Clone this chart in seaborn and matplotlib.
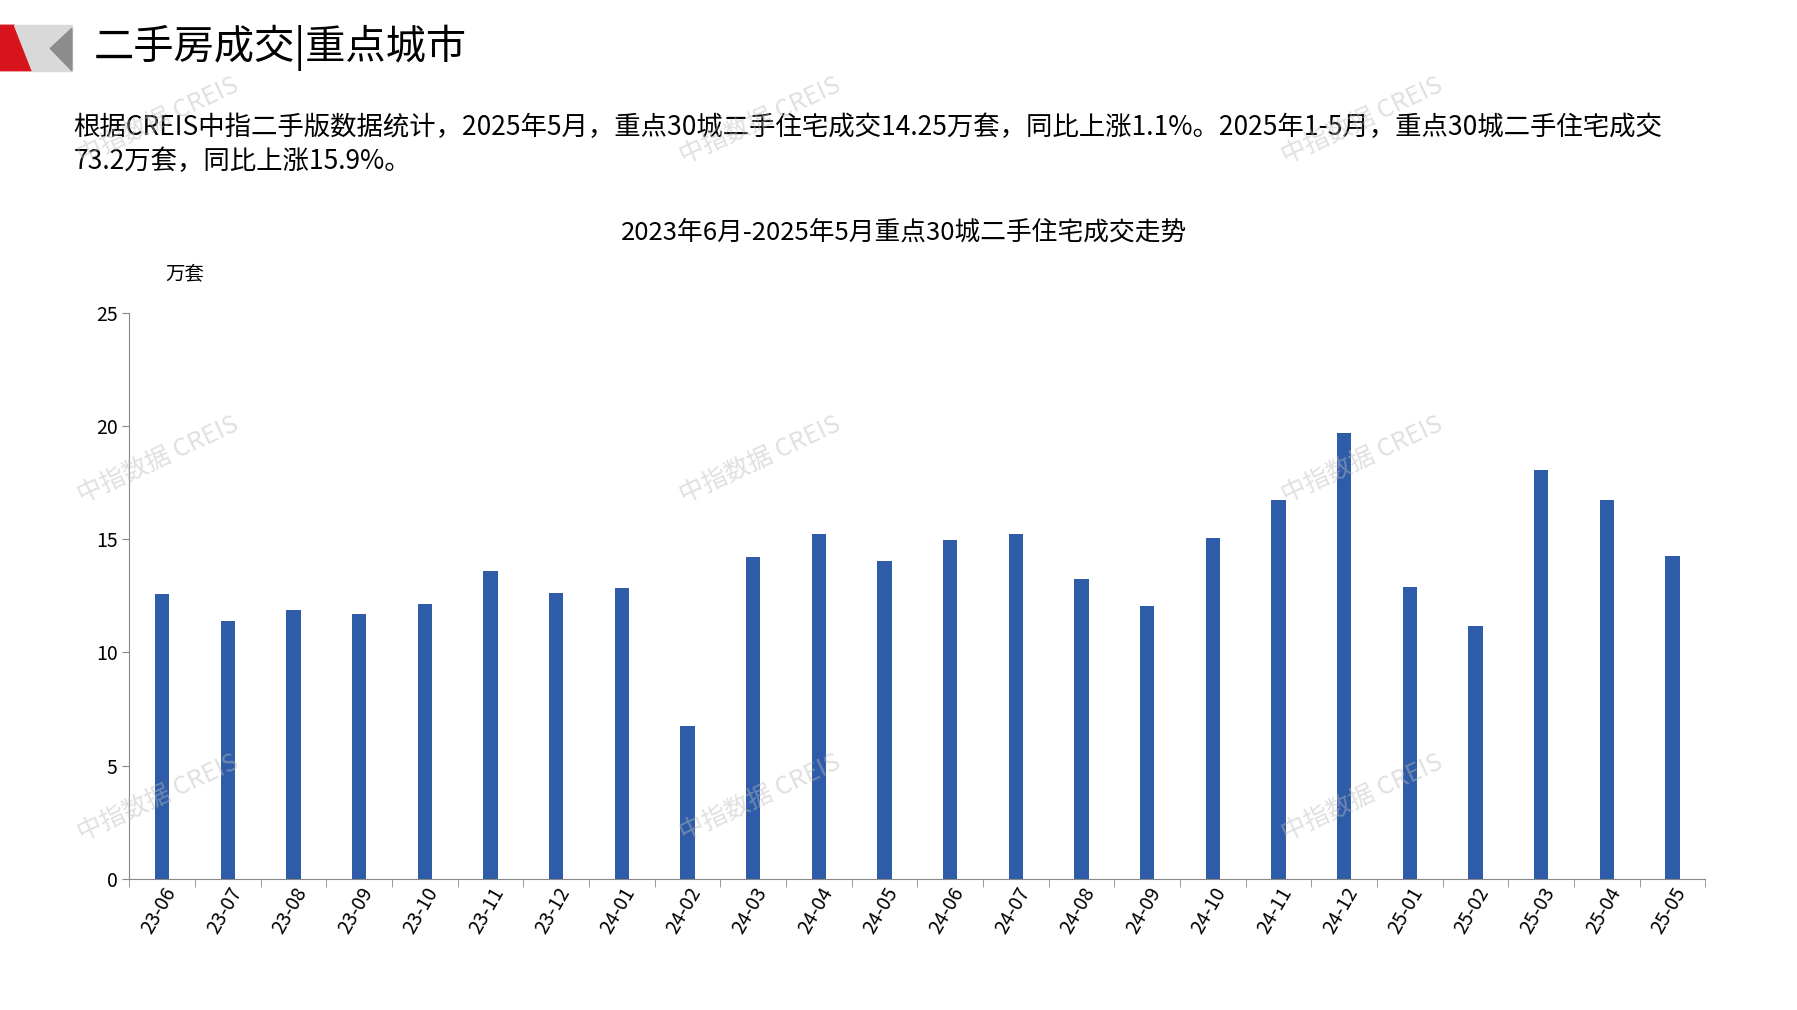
import matplotlib.pyplot as plt
import matplotlib.font_manager as fm
import seaborn as sns
import pandas as pd
from matplotlib.patches import Polygon

# locate a CJK sans font file and register it
cjk_name = None
for f in fm.findSystemFonts():
    if 'cjk' in f.lower():
        try:
            fm.fontManager.addfont(f)
            name = fm.FontProperties(fname=f).get_name()
            if 'Sans' in name and (cjk_name is None or name.endswith('SC')):
                cjk_name = name
        except Exception:
            pass
plt.rcParams.update({"font.family": "sans-serif",
                     "font.sans-serif": [cjk_name or "Noto Sans CJK SC", "DejaVu Sans"]})

months = ['23-06', '23-07', '23-08', '23-09', '23-10', '23-11', '23-12', '24-01', '24-02', '24-03',
          '24-04', '24-05', '24-06', '24-07', '24-08', '24-09', '24-10', '24-11', '24-12', '25-01',
          '25-02', '25-03', '25-04', '25-05']
volume = [12.58, 11.4, 11.86, 11.71, 12.12, 13.6, 12.63, 12.83, 6.77, 14.2,
          15.22, 14.05, 14.97, 15.22, 13.24, 12.07, 15.07, 16.75, 19.7, 12.88,
          11.15, 18.08, 16.75, 14.25]
df = pd.DataFrame({'month': months, 'volume': volume})

fig = plt.figure(figsize=(17.97, 10.1), dpi=100)
ax = fig.add_axes([0.072, 0.13, 0.877, 0.56])
sns.barplot(data=df, x='month', y='volume', color='#2f5ca8', width=0.22, saturation=1, ax=ax)
ax.set_ylim(0, 25)
ax.set_yticks([0, 5, 10, 15, 20, 25])
ax.set_xlim(-0.5, len(months) - 0.5)
ax.set_xlabel(None)
ax.set_ylabel(None)
for s in ['top', 'right']:
    ax.spines[s].set_visible(False)
for s in ['left', 'bottom']:
    ax.spines[s].set_color('#888888')
ax.tick_params(axis='y', labelsize=14, length=5, color='#888888')
ax.tick_params(axis='x', labelsize=14, length=0)
plt.setp(ax.get_xticklabels(), rotation=60, ha='right', rotation_mode='anchor')
ax.set_xticks([i + 0.5 for i in range(-1, len(months))], minor=True)
ax.tick_params(axis='x', which='minor', length=6, color='#888888')

# header
fig.patches.append(Polygon([[0, 0.93], [0.018, 0.93], [0.008, 0.975], [0, 0.975]],
                           closed=True, transform=fig.transFigure, color='#d7141b'))
fig.patches.append(Polygon([[0.018, 0.93], [0.04, 0.93], [0.04, 0.975], [0.008, 0.975]],
                           closed=True, transform=fig.transFigure, color='#d9d9d9'))
fig.patches.append(Polygon([[0.028, 0.952], [0.04, 0.93], [0.04, 0.972]],
                           closed=True, transform=fig.transFigure, color='#8c8c8c'))
fig.text(0.052, 0.953, '二手房成交|重点城市', fontsize=29, va='center')
fig.text(0.041, 0.874, '根据CREIS中指二手版数据统计，2025年5月，重点30城二手住宅成交14.25万套，同比上涨1.1%。2025年1-5月，重点30城二手住宅成交',
         fontsize=19, va='center')
fig.text(0.041, 0.840, '73.2万套，同比上涨15.9%。', fontsize=19, va='center')
fig.text(0.503, 0.77, '2023年6月-2025年5月重点30城二手住宅成交走势', fontsize=18.5, ha='center', va='center')
fig.text(0.092, 0.729, '万套', fontsize=14, va='center')

# watermarks
for x in [0.088, 0.423, 0.758]:
    for y in [0.88, 0.545, 0.21]:
        fig.text(x, y, '中指数据 CREIS', fontsize=18, color='#bbbbbb', alpha=0.45, rotation=25,
                 ha='center', va='center')

fig.savefig('out.png')
